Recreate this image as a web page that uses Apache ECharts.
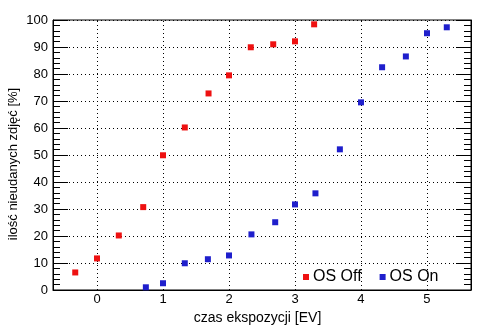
<!DOCTYPE html>
<html><head><meta charset="utf-8">
<script src="https://cdn.jsdelivr.net/npm/echarts@6/dist/echarts.min.js"></script>
<style>html,body{margin:0;padding:0;background:#fff}#c{width:494px;height:331px}</style>
</head><body><div id="c"></div>
<script>
const offX = [-0.33, 0, 0.33, 0.7, 1.0, 1.33, 1.69, 2.0, 2.33, 2.67, 3.0, 3.29];
const offY = [6.5, 11.7, 20.2, 30.7, 49.9, 60.2, 72.8, 79.5, 89.9, 91.0, 92.1, 98.4];
const onX = [0.74, 1.0, 1.33, 1.68, 2.0, 2.34, 2.7, 3.0, 3.31, 3.68, 4.0, 4.32, 4.68, 5.0, 5.3];
const onY = [1.0, 2.5, 9.9, 11.4, 12.8, 20.6, 25.1, 31.7, 35.8, 52.1, 69.5, 82.5, 86.5, 95.1, 97.3];
const xTicks = [0, 1, 2, 3, 4, 5];
const xName = 'czas ekspozycji [EV]';
const yName = 'ilość nieudanych zdjęć [%]';
const seriesNames = ['OS Off', 'OS On'];

const font = 'Liberation Sans, Arial, sans-serif';
const dotted = {color: '#000', width: 1, type: [1, 3]};
const pair = (xs, ys) => xs.map((x, i) => [x, ys[i]]);

const chart = echarts.init(document.getElementById('c'));
chart.setOption({
  animation: false,
  backgroundColor: '#fff',
  textStyle: {fontFamily: font},
  grid: {left: 53, top: 20, right: 23, bottom: 41, containLabel: false, outerBoundsMode: 'none',
         show: true, borderColor: '#000', borderWidth: 1, backgroundColor: 'transparent'},
  graphic: [{
    type: 'text', x: 13, y: 164, rotation: Math.PI / 2,
    style: {text: yName, font: '13px ' + font, fill: '#000', align: 'center', verticalAlign: 'middle'}
  }],
  legend: {
    left: 303, top: 269, padding: 0, itemWidth: 6, itemHeight: 6, itemGap: 18, icon: 'rect',
    textStyle: {fontFamily: font, fontSize: 16, color: '#000', padding: [0, 0, 0, -1]},
    data: seriesNames
  },
  xAxis: {
    type: 'value', min: -0.667, max: 5.667,
    name: xName, nameLocation: 'middle', nameGap: 19,
    nameTextStyle: {fontFamily: font, fontSize: 14, color: '#000', padding: [0, 9, 0, 0]},
    axisLine: {show: true, onZero: false, lineStyle: {color: '#000'}},
    axisTick: {show: false},
    axisLabel: {customValues: xTicks, fontFamily: font, fontSize: 13, color: '#000', margin: 3},
    splitLine: {show: false}
  },
  yAxis: [{
    type: 'value', min: 0, max: 100, interval: 10, position: 'left',
    axisLine: {show: true, onZero: false, lineStyle: {color: '#000'}},
    axisTick: {show: true, inside: true, length: 15, lineStyle: {color: '#000'}},
    minorTick: {show: true, splitNumber: 5, length: 7, lineStyle: {color: '#000'}},
    axisLabel: {fontFamily: font, fontSize: 13, color: '#000', margin: 5},
    splitLine: {show: true, lineStyle: dotted}
  }, {
    type: 'value', min: 0, max: 100, interval: 10, position: 'right',
    axisLine: {show: true, onZero: false, lineStyle: {color: '#000'}},
    axisTick: {show: true, inside: true, length: 15, lineStyle: {color: '#000'}},
    minorTick: {show: true, splitNumber: 5, length: 7, lineStyle: {color: '#000'}},
    axisLabel: {show: false},
    splitLine: {show: false}
  }],
  series: [{
    name: seriesNames[0], type: 'scatter', symbol: 'rect', symbolSize: 6,
    itemStyle: {color: '#ee1111', opacity: 1}, data: pair(offX, offY), z: 5,
    markLine: {
      silent: true, symbol: 'none', label: {show: false}, animation: false,
      lineStyle: dotted, emphasis: {disabled: true},
      data: xTicks.map(v => ({xAxis: v}))
    }
  }, {
    name: seriesNames[1], type: 'scatter', symbol: 'rect', symbolSize: 6,
    itemStyle: {color: '#1f1fcc', opacity: 1}, data: pair(onX, onY), z: 5
  }]
});
</script></body></html>
